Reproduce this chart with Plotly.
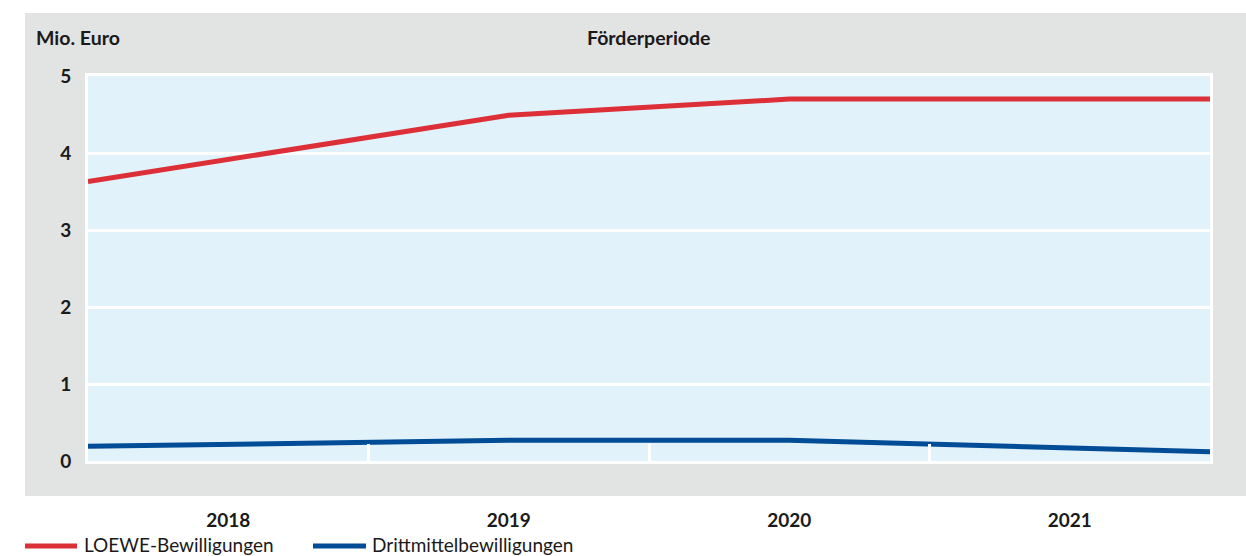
import plotly.graph_objects as go

# data
periods = ["2018", "2019", "2020", "2021"]
period_starts = [2018, 2019, 2020, 2021]
timeline = [2018.0, 2019.5, 2020.5, 2022.0]
loewe = [3.63, 4.49, 4.70, 4.70]
drittmittel = [0.19, 0.27, 0.27, 0.12]
series_names = ["LOEWE-Bewilligungen", "Drittmittelbewilligungen"]
y_ticks = [0, 1, 2, 3, 4, 5]

RED = "#dc2f37"
BLUE = "#004c97"
GREY = "#e2e3e3"
PLOT_BG = "#e1f2fb"
TEXT = "#1a1a1a"
FONT = "Lato"

W, H = 1246, 556
L, R, T, B = 88, 36, 76, 95
pw, ph = W - L - R, H - T - B


def px(x):
    return (x - L) / pw


def py(y):
    return (H - B - y) / ph


fig = go.Figure()
for name, vals, color in [(series_names[0], loewe, RED), (series_names[1], drittmittel, BLUE)]:
    fig.add_trace(go.Scatter(
        x=timeline, y=vals, name=name, mode="lines",
        line=dict(color=color, width=5), cliponaxis=False, showlegend=False,
    ))

shapes = [
    # grey panel behind the chart
    dict(type="rect", xref="paper", yref="paper", x0=px(25), x1=px(1246), y0=py(496), y1=py(13),
         fillcolor=GREY, line_width=0, layer="below"),
    # light blue plot area
    dict(type="rect", xref="paper", yref="paper", x0=0, x1=1, y0=0, y1=1,
         fillcolor=PLOT_BG, line_width=0, layer="below"),
]

annotations = [
    dict(text="<b>Mio. Euro</b>", xref="paper", yref="paper", x=px(34), y=py(38),
         xanchor="left", yanchor="middle", showarrow=False, font=dict(size=19.5, color=TEXT)),
    dict(text="<b>Förderperiode</b>", xref="paper", yref="paper", x=px(649), y=py(38),
         xanchor="center", yanchor="middle", showarrow=False, font=dict(size=19.5, color=TEXT)),
]

# legend drawn by hand to get the long line samples
legend_items = [(series_names[0], RED, 25, 77, 82), (series_names[1], BLUE, 313, 366, 370)]
for name, color, x0, x1, xt in legend_items:
    shapes.append(dict(type="line", xref="paper", yref="paper", x0=px(x0), x1=px(x1),
                       y0=py(546), y1=py(546), line=dict(color=color, width=5)))
    annotations.append(dict(text=name, xref="paper", yref="paper", x=px(xt), y=py(544),
                            xanchor="left", yanchor="middle", showarrow=False,
                            font=dict(size=19, color=TEXT)))

fig.update_layout(
    width=W, height=H,
    margin=dict(l=L, r=R, t=T, b=B),
    paper_bgcolor="white",
    plot_bgcolor="rgba(0,0,0,0)",
    font=dict(family=FONT, color=TEXT, size=19),
    shapes=shapes,
    annotations=annotations,
    showlegend=False,
)

fig.update_xaxes(
    range=[2018, 2022],
    tickvals=[p + 0.5 for p in period_starts],
    ticktext=[f"<b>{p}</b>" for p in periods],
    showgrid=False, zeroline=False,
    ticks="", ticklabelstandoff=40,
    showline=True, linecolor="white", linewidth=3, mirror=True,
    minor=dict(tickvals=period_starts[1:], ticks="inside", ticklen=17,
               tickcolor="white", tickwidth=3, showgrid=False),
    fixedrange=True,
)
fig.update_yaxes(
    range=[0, 5],
    tickvals=y_ticks,
    ticktext=[f"<b>{v}</b>" for v in y_ticks],
    showgrid=True, gridcolor="white", gridwidth=3, zeroline=False,
    ticks="outside", ticklen=10, tickcolor="rgba(0,0,0,0)",
    showline=True, linecolor="white", linewidth=3, mirror=True,
    fixedrange=True,
)

fig.write_html("out.html", config={"displayModeBar": False},
               post_script="document.body.style.margin='0';")
